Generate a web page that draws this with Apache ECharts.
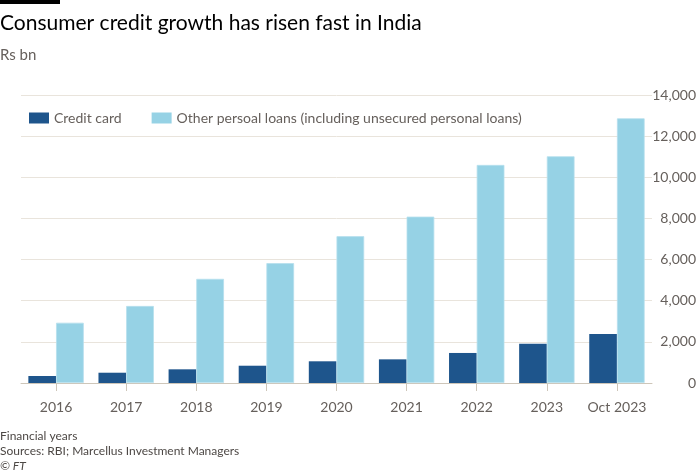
<!DOCTYPE html>
<html><head><meta charset="utf-8">
<script src="https://cdn.jsdelivr.net/npm/echarts@6/dist/echarts.min.js"></script>
<style>html,body{margin:0;padding:0;background:#fff}#c{width:700px;height:476px}</style>
</head><body><div id="c"></div>
<script>
const categories = ['2016','2017','2018','2019','2020','2021','2022','2023','Oct 2023'];
const creditCard = [340, 500, 665, 840, 1055, 1150, 1460, 1910, 2380];
const otherLoans = [2930, 3745, 5063, 5825, 7136, 8087, 10600, 11020, 12865];
const yTicks = [0, 2000, 4000, 6000, 8000, 10000, 12000, 14000];

const FONT = 'Lato';
const chart = echarts.init(document.getElementById('c'));
chart.setOption({
  animation: false,
  textStyle: { fontFamily: FONT },
  graphic: [
    { type: 'rect', left: 0, top: 0, shape: { width: 60, height: 4 }, style: { fill: '#000' } },
    { type: 'text', left: 0, top: 13, style: { text: 'Consumer credit growth has risen fast in India', font: '21px ' + FONT, fill: '#000' } },
    { type: 'text', left: 0, top: 48, style: { text: 'Rs bn', font: '15px ' + FONT, fill: '#66605c' } },
    { type: 'text', left: 0, top: 430, style: { text: 'Financial years', font: '12px ' + FONT, fill: '#4d4845' } },
    { type: 'text', left: 0, top: 445, style: { text: 'Sources: RBI; Marcellus Investment Managers', font: '12px ' + FONT, fill: '#4d4845' } },
    { type: 'text', left: 0, top: 460, style: { text: '\u00a9 FT', font: 'italic 12px ' + FONT, fill: '#4d4845' } }
  ],
  legend: {
    left: 24, top: 106, itemWidth: 20, itemHeight: 11, itemGap: 30,
    icon: 'rect',
    itemStyle: { borderWidth: 0 },
    textStyle: { fontSize: 14, color: '#66605c', fontFamily: FONT },
    data: ['Credit card', 'Other persoal loans (including unsecured personal loans)']
  },
  grid: { left: 21, right: 48, top: 95, bottom: 93, containLabel: false },
  xAxis: {
    type: 'category', data: categories,
    axisLine: { lineStyle: { color: '#cec6b9', width: 1 } },
    axisTick: { show: true, alignWithLabel: true, interval: 0, length: 8, lineStyle: { color: '#cec6b9' } },
    axisLabel: { interval: 0, fontSize: 14, color: '#66605c', margin: 17, fontFamily: FONT }
  },
  yAxis: {
    type: 'value', position: 'right', min: 0, max: 14000, interval: 2000,
    axisLine: { show: false }, axisTick: { show: false },
    splitLine: { lineStyle: { color: '#e9e4dc', width: 1 } },
    axisLabel: {
      align: 'right', margin: 44, fontSize: 14, color: '#66605c', fontFamily: FONT,
      formatter: v => yTicks.includes(v) ? v.toLocaleString('en-US') : ''
    }
  },
  series: [
    { name: 'Credit card', type: 'bar', data: creditCard, barWidth: '39.5%', barGap: '0%',
      itemStyle: { color: '#1e558c' } },
    { name: 'Other persoal loans (including unsecured personal loans)', type: 'bar', data: otherLoans, barWidth: '39.5%',
      itemStyle: { color: '#96d2e5', borderColor: '#b6e0ee', borderWidth: 0.8 } }
  ]
});
</script></body></html>
